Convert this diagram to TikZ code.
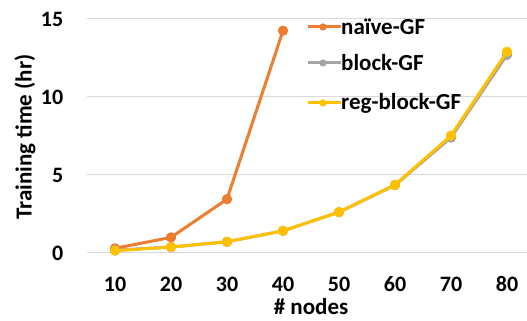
\documentclass[tikz,border=0pt]{standalone}
\usepackage{fontspec}
\setmainfont{Carlito}
\usetikzlibrary{positioning}
\definecolor{naivecol}{HTML}{ED7D31}
\definecolor{blockcol}{HTML}{A5A5A5}
\definecolor{regcol}{HTML}{FFC000}
\definecolor{gridcol}{HTML}{D9D9D9}
\tikzset{
  series/.style={line width=3pt, line join=round, mark=*, mark size=3.6pt, mark options={solid}},
  ticklbl/.style={inner sep=0pt, font=\bfseries\fontsize{22}{26}\selectfont},
  axislbl/.style={inner sep=0pt, font=\bfseries\fontsize{23}{27}\selectfont},
  leglbl/.style={inner sep=0pt, anchor=west, font=\bfseries\fontsize{23}{27}\selectfont},
}
\begin{document}
\begin{tikzpicture}[x=1pt,y=1pt]
    \useasboundingbox (0,0) rectangle (527,321);
    % data area: x = # nodes, y = hours
    \begin{scope}[shift={(59,68)}, x=5.6pt, y=15.6pt]
    \foreach \t in {0,5,10,15}
      \draw[gridcol, line width=1pt] (5,\t) -- (83.6,\t);
    \foreach \t in {0,5,10,15}
      \node[ticklbl, anchor=east] (y\t) at (0.8,\t) {\t};
    \foreach \n in {10,20,...,80}
      \node[ticklbl] (x\n) at (\n,-2) {\n};
    \node[axislbl] (xlabel) at (45,-3.46) {\# nodes};
    \node[axislbl, rotate=90] (ylabel) at (-6.07,7.44) {Training time (hr)};
    \draw[series, naivecol] plot coordinates {(10,0.3) (20,1.0) (30,3.45) (40,14.25)};
    \draw[series, blockcol] plot coordinates {(10,0.18) (20,0.38) (30,0.72) (40,1.42) (50,2.62) (60,4.35) (70,7.4) (80,12.7)};
    \draw[series, regcol] plot coordinates {(10,0.15) (20,0.38) (30,0.72) (40,1.42) (50,2.62) (60,4.37) (70,7.52) (80,12.9)};
    \end{scope}
    % legend
    \node[leglbl] (leg1) at (341,294) {naïve-GF};
    \node[leglbl] (leg2) at (341,258) {block-GF};
    \node[leglbl] (leg3) at (341,218) {reg-block-GF};
    \draw[series, naivecol] ([xshift=-33pt]leg1.west) -- (leg1.west);
    \fill[naivecol] ([xshift=-18pt]leg1.west) circle (3.6pt);
    \draw[series, blockcol] ([xshift=-33pt]leg2.west) -- (leg2.west);
    \fill[blockcol] ([xshift=-18pt]leg2.west) circle (3.6pt);
    \draw[series, regcol] ([xshift=-33pt]leg3.west) -- (leg3.west);
    \fill[regcol] ([xshift=-18pt]leg3.west) circle (3.6pt);
\end{tikzpicture}
\end{document}
